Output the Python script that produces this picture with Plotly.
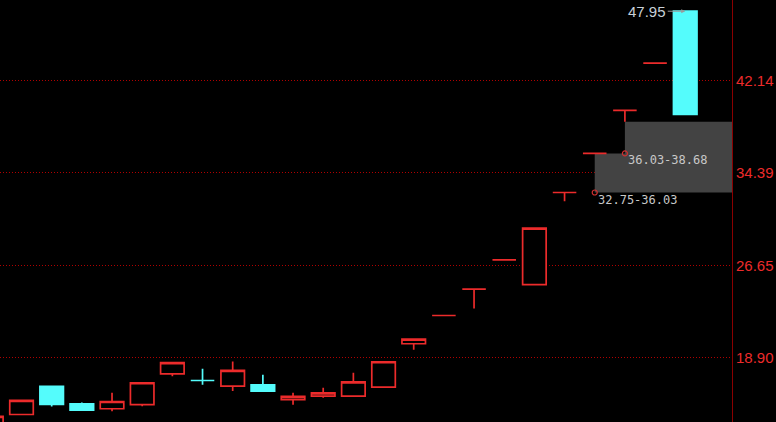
import plotly.graph_objects as go

# ---- data ----
idx = list(range(-1, 23))
opens = [13.20, 14.14, 16.49, 15.04, 14.62, 14.96, 17.55, 16.99, 16.52, 16.63, 15.38, 15.68,
         15.68, 16.43, 20.07, 22.44, 24.65, 27.10, 25.02, 32.75, 36.03, 39.63, 43.59, 47.95]
highs = [13.98, 15.32, 16.49, 15.15, 15.96, 16.80, 18.48, 17.97, 18.59, 17.47, 15.96, 16.38,
         17.64, 18.56, 20.46, 22.44, 24.65, 27.10, 29.77, 32.75, 36.03, 39.63, 43.59, 47.95]
lows = [13.00, 14.14, 14.81, 14.50, 14.42, 14.84, 17.35, 16.63, 16.10, 16.10, 14.96, 15.54,
        15.68, 16.43, 19.57, 22.44, 23.03, 27.10, 25.02, 32.02, 36.03, 38.68, 43.59, 39.30]
closes = [13.98, 15.32, 14.98, 14.50, 15.23, 16.80, 18.48, 16.99, 17.83, 16.10, 15.65, 15.96,
          16.88, 18.56, 20.46, 22.44, 24.65, 27.10, 29.77, 32.75, 36.03, 39.63, 43.59, 39.30]

tick_vals = [18.90, 26.65, 34.39, 42.14]
tick_text = ["18.90", "26.65", "34.39", "42.14"]

# gaps: (start index, low, high)
gap_start = [19, 20]
gap_low = [32.75, 36.03]
gap_high = [36.03, 38.68]

max_idx = 22
max_price = 47.95

RED = "#EC2B2B"
CYAN = "#54FCFC"

x_range = [-0.713, 23.55]
y_range = [13.51, 48.89]

fig = go.Figure()

fig.add_trace(go.Candlestick(
    x=idx, open=opens, high=highs, low=lows, close=closes,
    increasing=dict(line=dict(color=RED, width=1.7), fillcolor="#000000"),
    decreasing=dict(line=dict(color=CYAN, width=1.7), fillcolor=CYAN),
    whiskerwidth=0, hoverinfo="skip", showlegend=False,
))

# gap boxes as one seamless region (stair-step outline built from the gap arrays)
xe = x_range[1]
pts = [(gap_start[0], gap_low[0]), (xe, gap_low[0]), (xe, gap_high[-1])]
for i in range(len(gap_start) - 1, -1, -1):
    pts.append((gap_start[i], gap_high[i]))
    if i > 0:
        pts.append((gap_start[i], gap_low[i]))
path = "M " + " L ".join(f"{x},{y}" for x, y in pts) + " Z"
fig.add_shape(type="path", xref="x", yref="y", path=path,
              fillcolor="#434343", line=dict(width=0), layer="between")

for s, lo, hi in zip(gap_start, gap_low, gap_high):
    fig.add_annotation(x=s, y=lo, text=f"{lo:.2f}-{hi:.2f}", showarrow=False,
                       xanchor="left", yanchor="top", xshift=1, yshift=2,
                       font=dict(family="DejaVu Sans Mono", size=12, color="#C8C8C8"))

fig.add_trace(go.Scatter(
    x=gap_start, y=gap_low, mode="markers",
    marker=dict(symbol="circle-open", size=5, color="#D03030", line=dict(width=1.2)),
    hoverinfo="skip", showlegend=False,
))

# max label
fig.add_annotation(x=max_idx, y=max_price, text=f"{max_price:.2f}", showarrow=True,
                   ax=-38, ay=0, arrowhead=2, arrowsize=0.8, arrowwidth=1,
                   arrowcolor="#9A9A9A", standoff=0,
                   font=dict(family="Liberation Sans, Arial", size=15, color="#C8D0D8"))

fig.update_layout(
    width=776, height=422,
    margin=dict(l=0, r=44, t=0, b=0),
    paper_bgcolor="#000000", plot_bgcolor="#000000",
    boxgap=0.22, boxgroupgap=0,
    xaxis=dict(range=x_range, showgrid=False, zeroline=False, showticklabels=False,
               rangeslider=dict(visible=False), showline=False, fixedrange=True),
    yaxis=dict(range=y_range, side="right", tickvals=tick_vals, ticktext=tick_text,
               showgrid=True, gridcolor="#B00000", griddash="1px,2px", gridwidth=1,
               zeroline=False, showline=True, linecolor="#8A0000", linewidth=1,
               ticks="", tickfont=dict(family="Liberation Sans, Arial", size=15, color=RED),
               fixedrange=True),
    showlegend=False,
    hovermode=False,
)

fig.write_html("out.html", config={"displayModeBar": False},
               post_script="document.body.style.margin='0';document.body.style.background='#000';")
